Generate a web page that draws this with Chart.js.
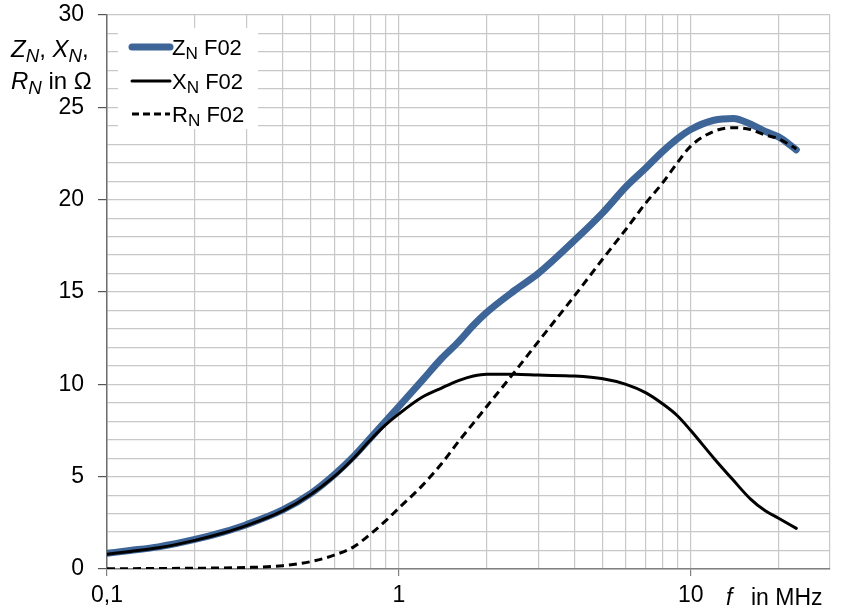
<!DOCTYPE html>
<html>
<head>
<meta charset="utf-8">
<script src="https://cdn.jsdelivr.net/npm/chart.js@4.4.1/dist/chart.umd.min.js"></script>
<style>
  html, body { margin: 0; padding: 0; background: #fff; }
  #wrap { width: 855px; height: 613px; }
</style>
</head>
<body>
<div id="wrap"><canvas id="chart" width="855" height="613"></canvas></div>
<script>
// frequency in MHz
var freq = [0.1, 0.12, 0.15, 0.2, 0.25, 0.3, 0.4, 0.5, 0.6, 0.7, 0.8, 0.9, 1, 1.2, 1.4, 1.6, 1.8, 2, 2.5, 3, 4, 5, 6, 7, 8, 9, 10, 12, 14, 16, 18, 20, 23];
// impedance values in ohm
var zN = [0.85, 1.0, 1.2, 1.6, 2.0, 2.4, 3.2, 4.1, 5.1, 6.1, 7.1, 8.0, 8.8, 10.2, 11.4, 12.3, 13.2, 13.9, 15.1, 16.0, 17.8, 19.3, 20.7, 21.7, 22.6, 23.3, 23.8, 24.3, 24.4, 24.1, 23.7, 23.4, 22.7];
var xN = [0.8, 0.95, 1.15, 1.55, 1.95, 2.35, 3.15, 4.05, 5.0, 6.0, 7.0, 7.8, 8.4, 9.3, 9.8, 10.2, 10.45, 10.55, 10.55, 10.5, 10.45, 10.3, 10.0, 9.55, 8.95, 8.3, 7.5, 6.0, 4.8, 3.8, 3.15, 2.75, 2.2];
var rN = [0.02, 0.02, 0.03, 0.04, 0.06, 0.08, 0.18, 0.4, 0.75, 1.2, 1.9, 2.6, 3.3, 4.5, 5.7, 6.9, 7.9, 8.8, 10.7, 12.3, 14.8, 16.8, 18.4, 19.8, 20.9, 22.0, 22.9, 23.7, 23.9, 23.8, 23.5, 23.3, 22.75];
// x grid positions and labels
var xTicks = [0.1, 0.2, 0.3, 0.4, 0.5, 0.6, 0.7, 0.8, 0.9, 1, 2, 3, 4, 5, 6, 7, 8, 9, 10, 20, 30];
var xLabels = { 0.1: '0,1', 1: '1', 10: '10' };

var blue = '#3d6598';
var font = '"Liberation Sans", Arial, sans-serif';

function pts(ys) {
  return freq.map(function (f, i) { return { x: f, y: ys[i] }; });
}

// draws text pieces with italic and subscript parts
function rich(ctx, parts, x, y, size) {
  parts.forEach(function (p) {
    var s = p.sub ? size * 0.78 : size;
    ctx.font = (p.it ? 'italic ' : '') + s + 'px ' + font;
    ctx.fillText(p.t, x, p.sub ? y + size * 0.2 : y);
    x += ctx.measureText(p.t).width;
  });
}

var textPlugin = {
  id: 'texts',
  afterDraw: function (chart) {
    var ctx = chart.ctx;
    ctx.save();
    ctx.fillStyle = '#000';
    ctx.textBaseline = 'alphabetic';
    // y axis title
    rich(ctx, [{t: 'Z', it: 1}, {t: 'N', it: 1, sub: 1}, {t: ', '}, {t: 'X', it: 1}, {t: 'N', it: 1, sub: 1}, {t: ','}], 11, 57, 24);
    rich(ctx, [{t: 'R', it: 1}, {t: 'N', it: 1, sub: 1}, {t: ' in Ω'}], 11, 89, 24);
    // x axis title
    rich(ctx, [{t: 'f', it: 1}], 726, 605, 23);
    rich(ctx, [{t: 'in MHz'}], 751, 605, 23);

    // legend
    ctx.fillStyle = '#fff';
    ctx.fillRect(118, 28, 140, 101);
    var rows = [
      { y: 47, color: blue, w: 7, dash: [], name: 'Z' },
      { y: 81, color: '#000', w: 3, dash: [], name: 'X' },
      { y: 114, color: '#000', w: 3, dash: [7, 4], name: 'R' }
    ];
    rows.forEach(function (r) {
      ctx.beginPath();
      ctx.strokeStyle = r.color;
      ctx.lineWidth = r.w;
      ctx.lineCap = r.dash.length ? 'butt' : 'round';
      ctx.setLineDash(r.dash);
      ctx.moveTo(132, r.y);
      ctx.lineTo(170, r.y);
      ctx.stroke();
      ctx.setLineDash([]);
      ctx.fillStyle = '#000';
      rich(ctx, [{t: r.name}, {t: 'N', sub: 1}, {t: ' F02'}], 172, r.y + 8, 22);
    });
    ctx.restore();
  }
};

var ctx = document.getElementById('chart').getContext('2d');
var chart = new Chart(ctx, {
  type: 'line',
  data: {
    datasets: [{
      label: 'ZN F02',
      data: pts(zN),
      borderColor: blue,
      borderWidth: 7,
      borderCapStyle: 'round',
      order: 2
    }, {
      label: 'XN F02',
      data: pts(xN),
      borderColor: '#000',
      borderWidth: 3,
      borderCapStyle: 'round',
      order: 0
    }, {
      label: 'RN F02',
      data: pts(rN),
      borderColor: '#000',
      borderWidth: 3,
      borderDash: [8, 5],
      order: 1
    }]
  },
  options: {
    responsive: false,
    animation: false,
    devicePixelRatio: 1,
    layout: { padding: { top: 15, right: 25, left: 0, bottom: 0 } },
    elements: {
      point: { radius: 0 },
      line: { cubicInterpolationMode: 'monotone', fill: false }
    },
    plugins: {
      legend: { display: false },
      tooltip: { enabled: false }
    },
    scales: {
      x: {
        type: 'logarithmic',
        min: 0.1,
        max: 30,
        afterBuildTicks: function (scale) {
          scale.ticks = xTicks.map(function (v) { return { value: v }; });
        },
        afterFit: function (scale) {
          scale.height = 44;
          scale.paddingLeft = 0;
          scale.paddingRight = 0;
        },
        border: { color: '#808080', width: 1.5 },
        grid: {
          color: '#c8c8c8',
          lineWidth: 1.2,
          tickLength: 7,
          tickColor: function (c) {
            return xLabels[c.tick && c.tick.value] ? '#808080' : 'rgba(0,0,0,0)';
          }
        },
        ticks: {
          autoSkip: false,
          maxRotation: 0,
          padding: 6,
          color: '#000',
          font: { family: font, size: 23 },
          callback: function (v) { return xLabels[v] || ''; }
        }
      },
      y: {
        min: 0,
        max: 30,
        afterFit: function (scale) {
          scale.width = 107;
          scale.paddingTop = 0;
          scale.paddingBottom = 0;
        },
        border: { color: '#6e6e6e', width: 1.5 },
        grid: {
          color: '#c8c8c8',
          lineWidth: 1.2,
          tickLength: 9,
          tickColor: function (c) {
            return c.tick && c.tick.value % 5 === 0 ? '#555' : 'rgba(0,0,0,0)';
          }
        },
        ticks: {
          stepSize: 1,
          autoSkip: false,
          padding: 14,
          color: '#000',
          font: { family: font, size: 23 },
          callback: function (v) { return v % 5 === 0 ? v : ''; }
        }
      }
    }
  },
  plugins: [textPlugin]
});
</script>
</body>
</html>
